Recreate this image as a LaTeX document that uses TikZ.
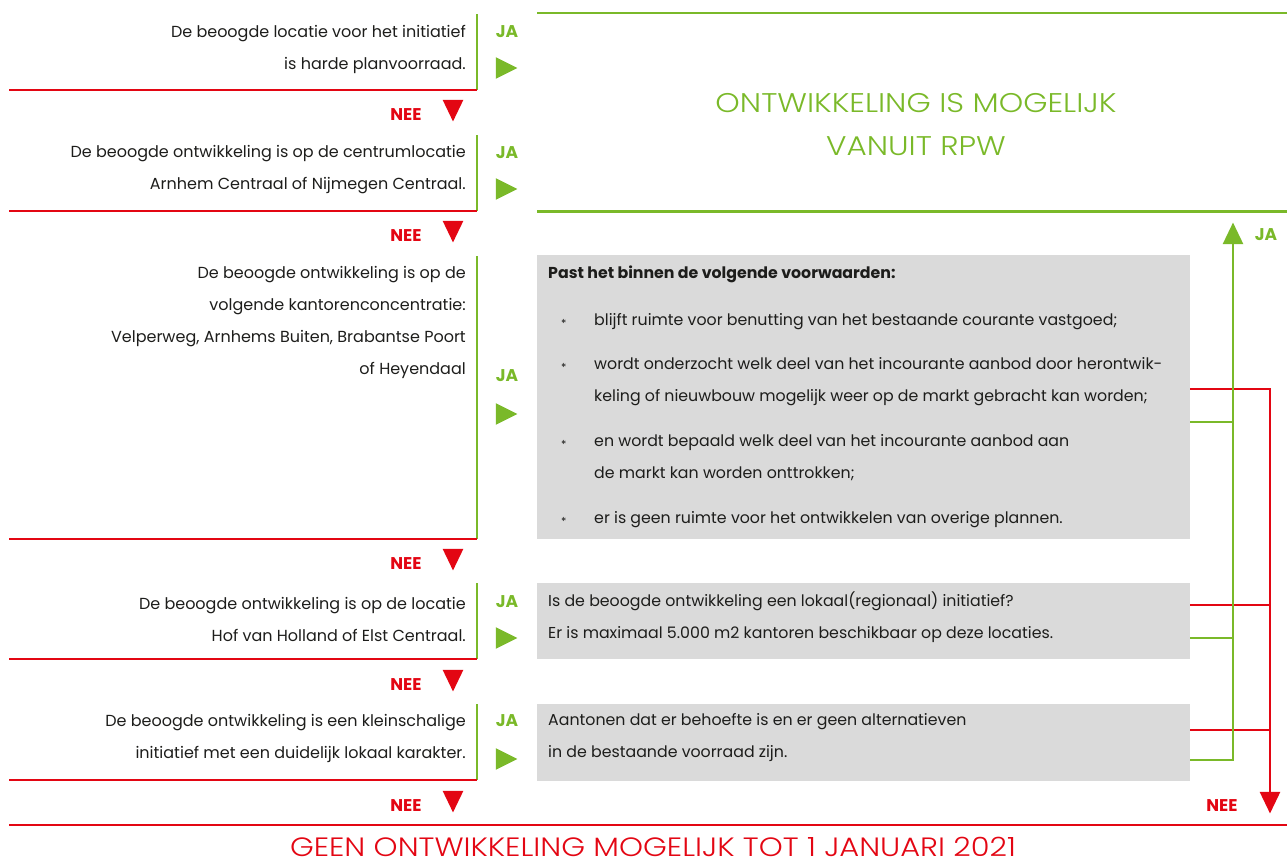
\documentclass[tikz,border=0pt]{standalone}
\usepackage{fontspec}
\setmainfont{Poppins}
\newfontfamily\dunfont{Poppins}[UprightFont={* Light},FakeStretch=1.15]
\usetikzlibrary{
  positioning,
  shapes.geometric,
}
\definecolor{rpwgroen}{HTML}{7AB929}
\definecolor{rpwrood}{HTML}{E30613}
\definecolor{rpwgrijs}{HTML}{DADADA}
\definecolor{rpwtekst}{HTML}{1D1D1B}
\newcommand{\ster}{\makebox[46pt][l]{\hspace*{13pt}\raisebox{-2pt}{\fontsize{11}{11}\selectfont *}}}
\tikzset{
  vraag/.style={anchor=east,align=right,inner sep=0,text=rpwtekst,font=\fontsize{16}{32}\selectfont},
  vaktekst/.style={align=left,inner sep=0,text=rpwtekst,font=\fontsize{15.8}{32}\selectfont},
  ja/.style={inner sep=0,text=rpwgroen,font=\fontsize{17}{18}\selectfont\bfseries},
  nee/.style={inner sep=0,text=rpwrood,font=\fontsize{17}{18}\selectfont\bfseries},
  japijl/.style={regular polygon,regular polygon sides=3,shape border rotate=-90,fill=rpwgroen,inner sep=0,minimum size=25pt,xscale=1.15},
  neepijl/.style={regular polygon,regular polygon sides=3,shape border rotate=180,fill=rpwrood,inner sep=0,minimum size=24pt,yscale=1.2},
  grijs/.style={rectangle,fill=rpwgrijs,anchor=north west,minimum width=653pt,inner sep=0},
  groenlijn/.style={draw=rpwgroen,line width=1.3pt},
  roodlijn/.style={draw=rpwrood,line width=1.3pt},
}

\begin{document}
\begin{tikzpicture}[x=1pt,y=-1pt,node distance=0mm and 0mm]

  \useasboundingbox (0,0) rectangle (1287,863);

  % vragen links
  \node[vraag] (vraag1) at (466,49) {De beoogde locatie voor het initiatief\\is harde planvoorraad.};
  \node[vraag] (vraag2) at (466,170) {De beoogde ontwikkeling is op de centrumlocatie\\Arnhem Centraal of Nijmegen Centraal.};
  \node[vraag] (vraag3) at (466,322) {De beoogde ontwikkeling is op de\\volgende kantorenconcentratie:\\Velperweg, Arnhems Buiten, Brabantse Poort\\of Heyendaal};
  \node[vraag] (vraag4) at (466,619) {De beoogde ontwikkeling is op de locatie\\Hof van Holland of Elst Centraal.};
  \node[vraag] (vraag5) at (466,738) {De beoogde ontwikkeling is een kleinschalige\\initiatief met een duidelijk lokaal karakter.};

  \draw[groenlijn] (477,14) -- (477,90);
  \draw[roodlijn] (9,90) -- (477,90);
  \draw[groenlijn] (477,135) -- (477,211);
  \draw[roodlijn] (9,211) -- (477,211);
  \draw[groenlijn] (477,256) -- (477,539);
  \draw[roodlijn] (9,539) -- (477,539);
  \draw[groenlijn] (477,583) -- (477,659);
  \draw[roodlijn] (9,659) -- (477,659);
  \draw[groenlijn] (477,704) -- (477,780);
  \draw[roodlijn] (9,780) -- (477,780);

  % ja
  \node[ja] (ja1) at (507,32) {JA};
  \node[japijl] (japijl1) at (503,68) {};
  \node[ja] (ja2) at (507,153) {JA};
  \node[japijl] (japijl2) at (503,189) {};
  \node[ja] (ja3) at (507,376) {JA};
  \node[japijl] (japijl3) at (503,414) {};
  \node[ja] (ja4) at (507,602) {JA};
  \node[japijl] (japijl4) at (503,638) {};
  \node[ja] (ja5) at (507,721) {JA};
  \node[japijl] (japijl5) at (503,759) {};

  % nee
  \node[nee] (nee1) at (406,115) {NEE};
  \node[neepijl] (neepijl1) at (453,107) {};
  \node[nee] (nee2) at (406,236) {NEE};
  \node[neepijl] (neepijl2) at (453,228) {};
  \node[nee] (nee3) at (406,564) {NEE};
  \node[neepijl] (neepijl3) at (453,556) {};
  \node[nee] (nee4) at (406,685) {NEE};
  \node[neepijl] (neepijl4) at (453,677) {};
  \node[nee] (nee5) at (406,806) {NEE};
  \node[neepijl] (neepijl5) at (453,798) {};

  % uitkomst boven
  \node[rectangle,anchor=north west,minimum width=750pt,minimum height=198pt,inner sep=0] (mogelijkvak) at (537,13) {};
  \draw[draw=rpwgroen,line width=2.6pt] (mogelijkvak.north west) -- (mogelijkvak.north east);
  \draw[draw=rpwgroen,line width=2.6pt] (mogelijkvak.south west) -- (mogelijkvak.south east);
  \node[align=center,inner sep=0,text=rpwgroen,font=\dunfont\fontsize{27}{43}\selectfont] (mogelijk) at (916,124.5) {ONTWIKKELING IS MOGELIJK\\VANUIT RPW};

  % grijze vakken
  \node[grijs,minimum height=284pt] (voorw) at (537,255) {};
  \node[vaktekst,anchor=north west] (voorwtekst) at (548,266) {%
    \textbf{Past het binnen de volgende voorwaarden:}\\[15pt]
    \ster blijft ruimte voor benutting van het bestaande courante vastgoed;\\[12pt]
    \ster wordt onderzocht welk deel van het incourante aanbod door herontwik-\\
    \hspace*{46pt}keling of nieuwbouw mogelijk weer op de markt gebracht kan worden;\\[13pt]
    \ster en wordt bepaald welk deel van het incourante aanbod aan\\
    \hspace*{46pt}de markt kan worden onttrokken;\\[13pt]
    \ster er is geen ruimte voor het ontwikkelen van overige plannen.};

  \node[grijs,minimum height=76pt] (lokaal) at (537,583) {};
  \node[vaktekst,yshift=4pt] (lokaaltekst) [right=11pt of lokaal.west] {Is de beoogde ontwikkeling een lokaal(regionaal) initiatief?\\Er is maximaal 5.000 m2 kantoren beschikbaar op deze locaties.};

  \node[grijs,minimum height=77pt] (behoefte) at (537,704) {};
  \node[vaktekst,yshift=5pt] (behoeftetekst) [right=11pt of behoefte.west] {Aantonen dat er behoefte is en er geen alternatieven\\in de bestaande voorraad zijn.};

  % terugkoppeling rechts
  \node[neepijl] (neepijlR) at (1270,799) {};
  \node[nee] (neeR) at (1222,806) {NEE};
  \node[regular polygon,regular polygon sides=3,fill=rpwgroen,inner sep=0,minimum size=24pt,yscale=1.2] (japijlR) at (1233,237) {};
  \node[ja] (jaR) at (1266,235) {JA};

  \coordinate (neeR1) at (1270,389);
  \coordinate (neeR2) at (1270,605);
  \coordinate (neeR3) at (1270,730);
  \coordinate (jaR1) at (1233,422);
  \coordinate (jaR2) at (1233,638);
  \coordinate (jaR3) at (1233,760);

  \draw[roodlijn] (voorw.east |- neeR1) -- (neeR1) -- (neepijlR.north);
  \draw[roodlijn] (lokaal.east |- neeR2) -- (neeR2);
  \draw[roodlijn] (behoefte.east |- neeR3) -- (neeR3);
  \draw[groenlijn] (behoefte.east |- jaR3) -- (jaR3) -- (japijlR.south);
  \draw[groenlijn] (lokaal.east |- jaR2) -- (jaR2);
  \draw[groenlijn] (voorw.east |- jaR1) -- (jaR1);

  % uitkomst onder
  \draw[draw=rpwrood,line width=2.6pt] (9,825) -- (1287,825);
  \node[inner sep=0,text=rpwrood,font=\dunfont\fontsize{26.5}{30}\selectfont] (geen) at (653,847) {GEEN ONTWIKKELING MOGELIJK TOT 1 JANUARI 2021};

\end{tikzpicture}
\end{document}
